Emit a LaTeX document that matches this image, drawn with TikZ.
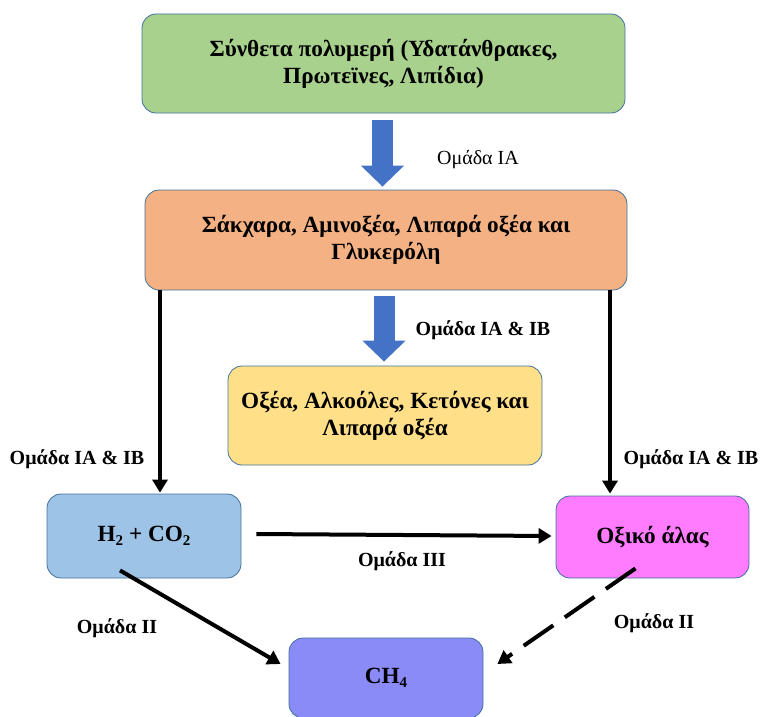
\documentclass[tikz,border=0pt]{standalone}
\usepackage{fontspec}
\setmainfont{Liberation Serif}
\usetikzlibrary{arrows.meta}
\definecolor{polyfill}{HTML}{A9D18E}
\definecolor{sugarfill}{HTML}{F4B183}
\definecolor{acidfill}{HTML}{FFDF88}
\definecolor{gasfill}{HTML}{9DC3E6}
\definecolor{acetfill}{HTML}{FF7BFF}
\definecolor{methfill}{HTML}{8B8BF7}
\definecolor{boxline}{HTML}{41719C}
\definecolor{fatblue}{HTML}{4472C4}
\newcommand{\lowsub}[1]{\raisebox{-4pt}{\fontsize{15}{15}\selectfont #1}}
\tikzset{
  stage/.style={draw=boxline, line width=0.8pt, rounded corners=14pt, align=center,
    inner sep=0pt, font=\bfseries\fontsize{23.2}{27}\selectfont},
  fatarrow/.style={fatblue, line width=21pt, -{Triangle[length=21pt,width=42pt]}},
  flow/.style={line width=4pt, -{Triangle[length=13pt,width=15pt]}},
  grp/.style={font=\bfseries\fontsize{20}{22}\selectfont},
}
\begin{document}
\begin{tikzpicture}[x=1pt,y=-1pt]
        \useasboundingbox (0,0) rectangle (760,717);
        \node[stage, fill=polyfill, minimum width=483pt, minimum height=99pt] (poly) at (383.5,63.5)
            {Σύνθετα πολυμερή (Υδατάνθρακες,\\Πρωτεϊνες, Λιπίδια)};
        \node[stage, fill=sugarfill, minimum width=482pt, minimum height=100pt] (sugar) at (386,240)
            {Σάκχαρα, Αμινοξέα, Λιπαρά οξέα και\\Γλυκερόλη};
        \node[stage, fill=acidfill, minimum width=314pt, minimum height=99pt] (acid) at (385,415.5)
            {Οξέα, Αλκοόλες, Κετόνες και\\Λιπαρά οξέα};
        \node[stage, fill=gasfill, minimum width=194pt, minimum height=84pt] (gas) at (144,536)
            {H\lowsub{2} + CO\lowsub{2}};
        \node[stage, fill=acetfill, minimum width=193pt, minimum height=82pt] (acet) at (652.5,537)
            {Οξικό άλας};
        \node[stage, fill=methfill, minimum width=194pt, minimum height=80pt] (meth) at (386,678)
            {CH\lowsub{4}};
        \coordinate (lt) at (160,0);
        \coordinate (rt) at (610,0);
        \draw[fatarrow] ([xshift=-1pt,yshift=-7pt]poly.south) -- ([xshift=-3.5pt,yshift=3pt]sugar.north);
        \draw[fatarrow] ([xshift=-2pt,yshift=-6pt]sugar.south) -- ([xshift=-1pt,yshift=4pt]acid.north);
        \draw[flow] (sugar.south -| lt) -- ([yshift=1pt]gas.north -| lt);
        \draw[flow] (sugar.south -| rt) -- ([yshift=2pt]acet.north -| rt);
        \draw[flow] ([xshift=15pt,yshift=2pt]gas.east) -- ([xshift=-4pt,yshift=1pt]acet.west);
        \draw[flow] ([xshift=-24pt,yshift=8pt]gas.south) -- ([xshift=-8pt,yshift=14pt]meth.west);
        \draw[flow, dash pattern=on 36pt off 14pt] ([xshift=-17pt,yshift=10pt]acet.south) -- ([xshift=14pt,yshift=14pt]meth.east);
        \node[font=\fontsize{20}{22}\selectfont] (gIA) at (478,160) {Ομάδα ΙΑ};
        \node[grp] (gIAB) at (483,330) {Ομάδα ΙΑ \& ΙΒ};
        \node[grp] (gleft) at (77,459) {Ομάδα ΙΑ \& ΙΒ};
        \node[grp] (gright) at (691,459) {Ομάδα ΙΑ \& ΙΒ};
        \node[grp] (gIII) at (402,561) {Ομάδα ΙΙΙ};
        \node[grp] (gIIl) at (117,628) {Ομάδα ΙΙ};
        \node[grp] (gIIr) at (654,623) {Ομάδα ΙΙ};
    \end{tikzpicture}
\end{document}
